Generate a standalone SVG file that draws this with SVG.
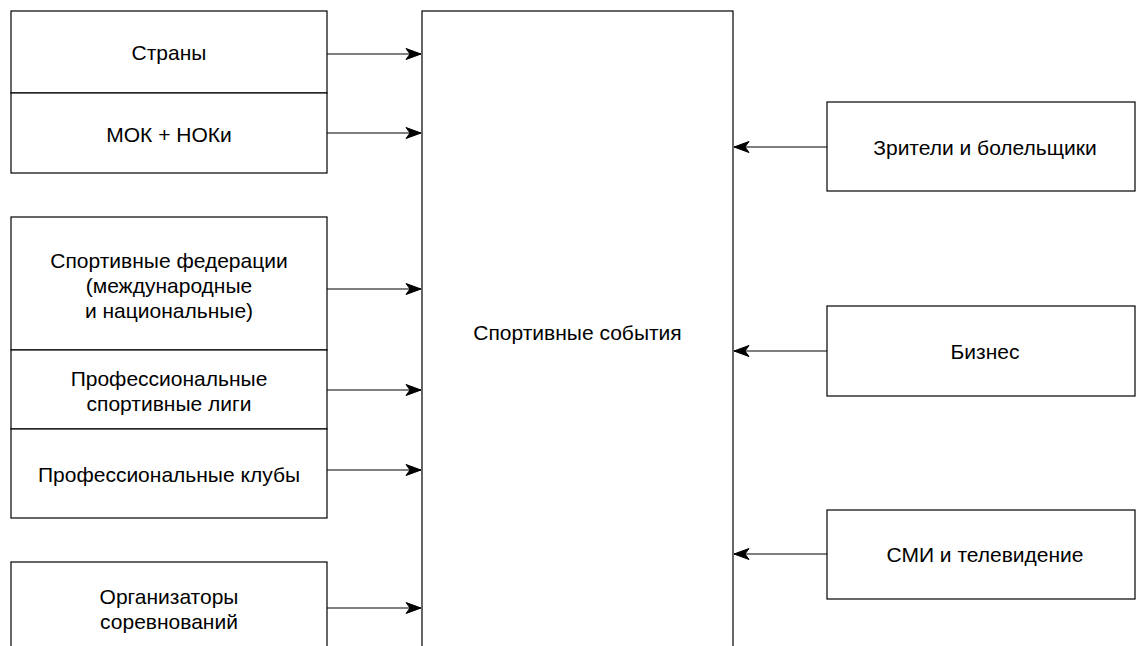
<svg xmlns="http://www.w3.org/2000/svg" width="1136" height="646" viewBox="0 0 1136 646">
<style>
rect.box{fill:#fff;stroke:#000;stroke-width:1.2}
line.sep{stroke:#000;stroke-width:1.2}
text{font-family:"Liberation Sans",Arial,Helvetica,sans-serif;font-size:21px;fill:#000;text-anchor:middle}
.conn path{fill:none;stroke:#000;stroke-width:1.2;marker-end:url(#arrow)}
</style>
<defs>
<marker id="arrow" markerUnits="userSpaceOnUse" markerWidth="20" markerHeight="14" viewBox="-16 -7 20 14" refX="0" refY="0" orient="auto">
<path d="M0,0 L-15,-5.5 L-11,0 L-15,5.5 Z" fill="#000" stroke="#000" stroke-width="1"/>
</marker>
</defs>
<rect width="1136" height="646" fill="#fff"/>
<g id="center">
<rect class="box" x="422" y="11" width="311" height="650"/>
<text x="577.5" y="340">Спортивные события</text>
</g>
<g id="strany">
<rect class="box" x="11" y="11" width="316" height="82"/>
<text x="169" y="60">Страны</text>
</g>
<g id="mok">
<rect class="box" x="11" y="93" width="316" height="80"/>
<text x="169" y="142">МОК + НОКи</text>
</g>
<g id="federacii">
<rect class="box" x="11" y="217" width="316" height="133"/>
<text x="169" y="268">Спортивные федерации</text>
<text x="169" y="293">(международные</text>
<text x="169" y="318">и национальные)</text>
</g>
<g id="ligi">
<rect class="box" x="11" y="350" width="316" height="79"/>
<text x="169" y="386">Профессиональные</text>
<text x="169" y="411">спортивные лиги</text>
</g>
<g id="kluby">
<rect class="box" x="11" y="429" width="316" height="89"/>
<text x="169" y="482">Профессиональные клубы</text>
</g>
<g id="organizatory">
<rect class="box" x="11" y="562" width="316" height="100"/>
<text x="169" y="604">Организаторы</text>
<text x="169" y="629">соревнований</text>
</g>
<g id="zriteli">
<rect class="box" x="827" y="102" width="308" height="89"/>
<text x="985" y="155">Зрители и болельщики</text>
</g>
<g id="biznes">
<rect class="box" x="827" y="306" width="308" height="90"/>
<text x="985" y="359">Бизнес</text>
</g>
<g id="smi">
<rect class="box" x="827" y="510" width="308" height="89"/>
<text x="985" y="562">СМИ и телевидение</text>
</g>
<g id="connectors" class="conn">
<path d="M327,54 L421,54"/>
<path d="M327,133 L421,133"/>
<path d="M327,289 L421,289"/>
<path d="M327,390 L421,390"/>
<path d="M327,470 L421,470"/>
<path d="M327,608 L421,608"/>
<path d="M827,147 L734,147"/>
<path d="M827,351 L734,351"/>
<path d="M827,554 L734,554"/>
</g>
</svg>
